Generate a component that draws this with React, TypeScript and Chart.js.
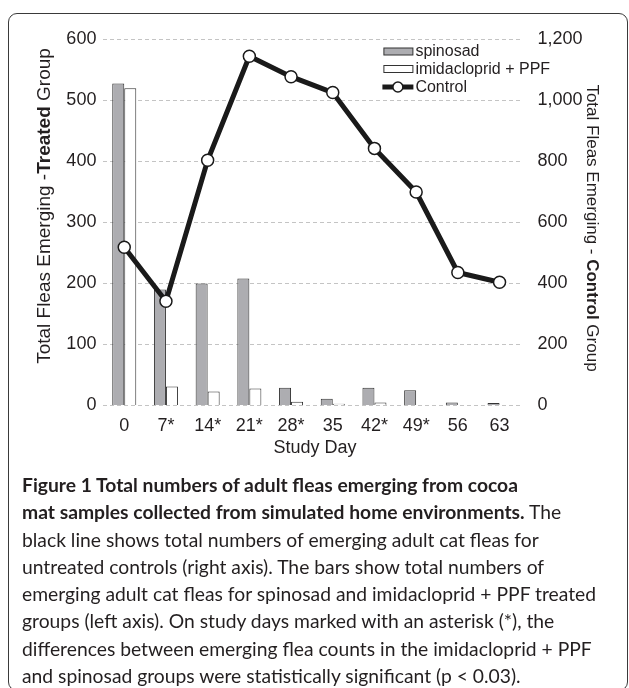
import React, { useEffect, useRef } from "react";
import { Chart, registerables } from "chart.js";

Chart.register(...registerables);

// ---------- data ----------
const studyDays = ["0", "7*", "14*", "21*", "28*", "35", "42*", "49*", "56", "63"];
const spinosad = [528, 190, 200, 208, 29, 11, 29, 25, 5, 4];
const imidaclopridPPF = [520, 31, 23, 28, 6, 3, 5, 1, 0, 0];
const control = [519, 342, 804, 1145, 1078, 1026, 843, 700, 436, 404];

const leftAxisMax = 600;
const leftAxisStep = 100;
const rightAxisMax = 1200;
const rightAxisStep = 200;

const seriesNames = ["spinosad", "imidacloprid + PPF", "Control"];
const xAxisTitle = "Study Day";
const leftTitle: [string, boolean][] = [["Total Fleas Emerging -", false], ["Treated", true], [" Group", false]];
const rightTitle: [string, boolean][] = [["Total Fleas Emerging - ", false], ["Control", true], [" Group", false]];

const captionLines: [string, boolean][][] = [
  [["Figure 1 Total numbers of adult fleas emerging from cocoa", true]],
  [["mat samples collected from simulated home environments.", true], [" The", false]],
  [["black line shows total numbers of emerging adult cat fleas for", false]],
  [["untreated controls (right axis). The bars show total numbers of", false]],
  [["emerging adult cat fleas for spinosad and imidacloprid + PPF treated", false]],
  [["groups (left axis). On study days marked with an asterisk (*), the", false]],
  [["differences between emerging flea counts in the imidacloprid + PPF", false]],
  [["and spinosad groups were statistically significant (p < 0.03).", false]],
];

// ---------- style ----------
const INK = "#231f20";
const SPIN_FILL = "#adadb1";
const FONT = "'Liberation Sans', Arial, Helvetica, sans-serif";

function drawMixed(ctx: CanvasRenderingContext2D, cx: number, cy: number, angle: number, segs: [string, boolean][], size: number) {
  const fonts = segs.map(([, b]) => `${b ? "bold " : ""}${size}px ${FONT}`);
  let total = 0;
  const widths = segs.map(([t], i) => {
    ctx.font = fonts[i];
    const w = ctx.measureText(t).width;
    total += w;
    return w;
  });
  ctx.save();
  ctx.translate(cx, cy);
  ctx.rotate(angle);
  ctx.textAlign = "left";
  ctx.textBaseline = "middle";
  ctx.fillStyle = INK;
  let x = -total / 2;
  segs.forEach(([t], i) => {
    ctx.font = fonts[i];
    ctx.fillText(t, x, 0);
    x += widths[i];
  });
  ctx.restore();
}

const overlayPlugin = {
  id: "overlayPlugin",
  afterDraw(chart: any) {
    const ctx: CanvasRenderingContext2D = chart.ctx;
    const ca = chart.chartArea;
    ctx.save();
    // x axis title
    ctx.fillStyle = INK;
    ctx.font = `18px ${FONT}`;
    ctx.textAlign = "center";
    ctx.textBaseline = "middle";
    ctx.fillText(xAxisTitle, (ca.left + ca.right) / 2 + 3, ca.bottom + 43);
    // y titles
    drawMixed(ctx, 45, 206, -Math.PI / 2, leftTitle, 19);
    drawMixed(ctx, 592, 228, Math.PI / 2, rightTitle, 17);

    // legend
    const lx = ca.right - 137;
    const ly = ca.top + 12;
    ctx.lineWidth = 1;
    ctx.strokeStyle = "#333";
    ctx.fillStyle = SPIN_FILL;
    ctx.fillRect(lx + 0.5, ly - 3.5, 29, 7);
    ctx.strokeRect(lx + 0.5, ly - 3.5, 29, 7);
    ctx.fillStyle = "#fff";
    ctx.fillRect(lx + 0.5, ly + 14, 29, 7);
    ctx.strokeRect(lx + 0.5, ly + 14, 29, 7);
    ctx.strokeStyle = "#1a1a1a";
    ctx.lineWidth = 5;
    ctx.beginPath();
    ctx.moveTo(lx - 1, ly + 35.5);
    ctx.lineTo(lx + 30, ly + 35.5);
    ctx.stroke();
    ctx.beginPath();
    ctx.arc(lx + 14.5, ly + 35.5, 5, 0, Math.PI * 2);
    ctx.fillStyle = "#fff";
    ctx.fill();
    ctx.lineWidth = 1.5;
    ctx.stroke();

    ctx.fillStyle = INK;
    ctx.font = `16px ${FONT}`;
    ctx.textAlign = "left";
    ctx.textBaseline = "middle";
    ctx.fillText(seriesNames[0], lx + 32, ly + 0.5);
    ctx.fillText(seriesNames[1], lx + 32, ly + 18);
    ctx.fillText(seriesNames[2], lx + 32, ly + 36);
    ctx.restore();
  },
};

function FleaChart() {
  const ref = useRef<HTMLCanvasElement>(null);
  useEffect(() => {
    if (!ref.current) return;
    const chart = new Chart(ref.current, {
      type: "bar",
      data: {
        labels: studyDays,
        datasets: [
          {
            type: "line",
            label: seriesNames[2],
            data: control,
            yAxisID: "y1",
            borderColor: "#1a1a1a",
            borderWidth: 5,
            pointRadius: 6,
            pointBackgroundColor: "#fff",
            pointBorderColor: "#1a1a1a",
            pointBorderWidth: 1.5,
            tension: 0,
            order: 0,
          } as any,
          {
            type: "bar",
            label: seriesNames[0],
            data: spinosad,
            yAxisID: "y",
            backgroundColor: SPIN_FILL,
            borderColor: "#333",
            borderWidth: 1,
            categoryPercentage: 0.576,
            barPercentage: 1,
            order: 1,
          },
          {
            type: "bar",
            label: seriesNames[1],
            data: imidaclopridPPF,
            yAxisID: "y",
            backgroundColor: "#ffffff",
            borderColor: "#333",
            borderWidth: 1,
            categoryPercentage: 0.576,
            barPercentage: 1,
            order: 1,
          },
        ],
      },
      options: {
        animation: false,
        responsive: false,
        locale: "en-US",
        layout: { padding: { top: 39.5, left: 0, right: 0, bottom: 0 } },
        plugins: { legend: { display: false }, tooltip: { enabled: false } },
        scales: {
          x: {
            grid: { display: false, drawTicks: false },
            border: { display: false },
            ticks: { color: INK, font: { size: 18, family: FONT }, padding: 10 },
            afterFit: (s: any) => { s.height = 59.5; },
          },
          y: {
            position: "left",
            min: 0,
            max: leftAxisMax,
            ticks: { stepSize: leftAxisStep, color: INK, font: { size: 18, family: FONT }, padding: 7 },
            grid: { color: "#c4c4c4", lineWidth: 1, drawTicks: false },
            border: { display: false, dash: [4, 3] },
            afterFit: (s: any) => { s.width = 103.4; },
          },
          y1: {
            position: "right",
            min: 0,
            max: rightAxisMax,
            ticks: { stepSize: rightAxisStep, color: INK, font: { size: 18, family: FONT }, padding: 17 },
            grid: { display: false, drawTicks: false },
            border: { display: false },
            afterFit: (s: any) => { s.width = 108.6; },
          },
        },
      } as any,
      plugins: [overlayPlugin],
    });
    return () => chart.destroy();
  }, []);
  return (
    <canvas
      ref={ref}
      width={629}
      height={465}
      style={{ position: "fixed", left: 0, top: 0, width: 629, height: 465 }}
    />
  );
}

export default function App() {
  return (
    <div>
      <div
        style={{
          position: "fixed",
          left: 8,
          top: 13,
          width: 620,
          height: 678,
          border: "1.5px solid #3a3a3a",
          borderRadius: 9,
          boxSizing: "border-box",
          background: "#fff",
        }}
      />
      <FleaChart />
      <div
        style={{
          position: "fixed",
          left: 22,
          top: 471,
          fontFamily: "Lato, 'Open Sans', sans-serif",
          fontSize: 19.3,
          lineHeight: "27.3px",
          color: INK,
          whiteSpace: "nowrap",
        }}
      >
        {captionLines.map((line, i) => (
          <div key={i}>
            {line.map(([t, b], j) => (
              <span key={j} style={{ fontWeight: b ? 700 : 400 }}>
                {t}
              </span>
            ))}
          </div>
        ))}
      </div>
    </div>
  );
}
